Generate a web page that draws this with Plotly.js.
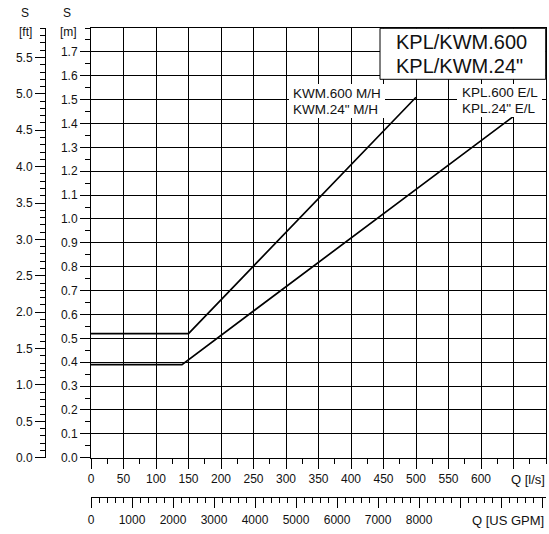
<!DOCTYPE html>
<html>
<head>
<meta charset="utf-8">
<script src="https://cdn.plot.ly/plotly-3.0.1.min.js"></script>
<style>html,body{margin:0;padding:0;background:#fff;}#chart{width:549px;height:534px;}</style>
</head>
<body>
<div id="chart"></div>
<script>
// ---- data ----
const Q_MH = [0, 150, 500];          // KWM.600 M/H  flow [l/s]
const S_MH = [0.52, 0.52, 1.51];     // KWM.600 M/H  S [m]
const Q_EL = [0, 140, 650];          // KPL.600 E/L  flow [l/s]
const S_EL = [0.39, 0.39, 1.43];     // KPL.600 E/L  S [m]

const Q_TICKS = [0,50,100,150,200,250,300,350,400,450,500,550,600,650];
const Q_TICKTEXT = ['0','50','100','150','200','250','300','350','400','450','500','550','600',''];
const GPM_TICKS = [0,1000,2000,3000,4000,5000,6000,7000,8000,9000,10000,11000];
const GPM_TICKTEXT = ['0','1000','2000','3000','4000','5000','6000','7000','8000','','',''];
const M_TICKS = [0,0.1,0.2,0.3,0.4,0.5,0.6,0.7,0.8,0.9,1.0,1.1,1.2,1.3,1.4,1.5,1.6,1.7];
const M_TICKTEXT = ['0.0','0.1','0.2','0.3','0.4','0.5','0.6','0.7','0.8','0.9','1.0','1.1','1.2','1.3','1.4','1.5','1.6','1.7'];
const FT_TICKS = [0,0.5,1.0,1.5,2.0,2.5,3.0,3.5,4.0,4.5,5.0,5.5];
const FT_TICKTEXT = ['0.0','0.5','1.0','1.5','2.0','2.5','3.0','3.5','4.0','4.5','5.0','5.5'];

const Q_MAX = 700;       // l/s
const S_MAX = 1.8;       // m
const LPS_TO_GPM = 15.850323;
const M_TO_FT = 1 / 0.3048;

const LABEL_MH = ['KWM.600 M/H', 'KWM.24" M/H'];
const LABEL_EL = ['KPL.600 E/L', 'KPL.24" E/L'];
const TITLE = ['KPL/KWM.600', 'KPL/KWM.24"'];

// ---- layout helpers ----
const W = 549, H = 534;
const M = {l: 45, r: 3, t: 28, b: 37};
const PW = W - M.l - M.r, PH = H - M.t - M.b;
const px = x => (x - M.l) / PW;
const py = y => (H - M.b - y) / PH;
const FONT = 'Liberation Sans, Arial, Helvetica, sans-serif';
const INK = '#111';

const plotLeft = 91, plotBottom = 457.7;

const traces = [
  {x: Q_MH, y: S_MH, mode: 'lines', line: {color: '#000', width: 1.7}, showlegend: false, hoverinfo: 'skip'},
  {x: Q_EL, y: S_EL, mode: 'lines', line: {color: '#000', width: 1.7}, showlegend: false, hoverinfo: 'skip'},
  {x: [], y: [], xaxis: 'x2', yaxis: 'y2', mode: 'lines', showlegend: false, hoverinfo: 'skip'}
];

const tickFont = {family: FONT, size: 12, color: INK};

const layout = {
  width: W, height: H,
  margin: M,
  paper_bgcolor: '#fff', plot_bgcolor: '#fff',
  showlegend: false,
  xaxis: {
    domain: [px(plotLeft), 1],
    range: [0, Q_MAX], fixedrange: true,
    tickmode: 'array', tickvals: Q_TICKS, ticktext: Q_TICKTEXT,
    ticks: 'outside', ticklen: 10, tickwidth: 1, tickcolor: '#000',
    minor: {tickmode: 'linear', tick0: 0, dtick: 25, ticks: 'outside', ticklen: 5, tickwidth: 1, tickcolor: '#000', showgrid: false},
    showgrid: true, gridcolor: '#000', gridwidth: 1,
    showline: true, linecolor: '#000', linewidth: 1, mirror: true,
    zeroline: false, tickfont: tickFont, automargin: false
  },
  xaxis2: {
    overlaying: 'x', anchor: 'free', position: 0, side: 'bottom',
    range: [0, Q_MAX * LPS_TO_GPM], fixedrange: true,
    tickmode: 'array', tickvals: GPM_TICKS, ticktext: GPM_TICKTEXT,
    ticks: 'outside', ticklen: 10, tickwidth: 1, tickcolor: '#000',
    ticklabelstandoff: 2,
    minor: {tickmode: 'linear', tick0: 0, dtick: 200, ticks: 'outside', ticklen: 5, tickwidth: 1, tickcolor: '#000', showgrid: false},
    showgrid: false, showline: true, linecolor: '#000', linewidth: 1,
    zeroline: false, tickfont: tickFont, automargin: false
  },
  yaxis: {
    domain: [py(plotBottom), 1],
    range: [0, S_MAX], fixedrange: true,
    tickmode: 'array', tickvals: M_TICKS, ticktext: M_TICKTEXT,
    ticks: 'outside', ticklen: 10, tickwidth: 1, tickcolor: '#000',
    minor: {tickmode: 'linear', tick0: 0, dtick: 0.05, ticks: 'outside', ticklen: 5, tickwidth: 1, tickcolor: '#000', showgrid: false},
    showgrid: true, gridcolor: '#000', gridwidth: 1,
    showline: true, linecolor: '#000', linewidth: 1, mirror: true,
    zeroline: false, tickfont: tickFont, automargin: false
  },
  yaxis2: {
    overlaying: 'y', anchor: 'free', position: 0, side: 'left',
    range: [0, S_MAX * M_TO_FT], fixedrange: true,
    tickmode: 'array', tickvals: FT_TICKS, ticktext: FT_TICKTEXT,
    ticks: 'outside', ticklen: 10, tickwidth: 1, tickcolor: '#000',
    minor: {tickmode: 'linear', tick0: 0, dtick: 0.1, ticks: 'outside', ticklen: 5, tickwidth: 1, tickcolor: '#000', showgrid: false},
    showgrid: false, showline: true, linecolor: '#000', linewidth: 1,
    zeroline: false, tickfont: tickFont, automargin: false
  },
  shapes: [
    {type: 'rect', xref: 'paper', yref: 'paper', x0: px(380), x1: px(545.7), y0: py(79.3), y1: py(28.3),
     fillcolor: '#fff', line: {color: '#000', width: 1}, layer: 'above'},
    {type: 'rect', xref: 'paper', yref: 'paper', x0: px(289), x1: px(385), y0: py(118), y1: py(84),
     fillcolor: '#fff', line: {width: 0}, layer: 'above'},
    {type: 'rect', xref: 'paper', yref: 'paper', x0: px(457), x1: px(542), y0: py(117), y1: py(84),
     fillcolor: '#fff', line: {width: 0}, layer: 'above'}
  ],
  annotations: []
};

function note(text, x, y, size, xanchor) {
  layout.annotations.push({
    text: text, xref: 'paper', yref: 'paper', x: px(x), y: py(y),
    xanchor: xanchor || 'center', yanchor: 'middle', showarrow: false,
    borderpad: 0, font: {family: FONT, size: size, color: INK}
  });
}
note('S', 24.5, 13.3, 12);
note('[ft]', 25.8, 31.7, 12);
note('S', 67.2, 13.3, 12);
note('[m]', 68.3, 31.7, 12);
note('Q [l/s]', 527.5, 479, 13);
note('Q [US GPM]', 544.5, 520, 13, 'right');
note(TITLE[0], 394.5, 41.7, 20, 'left');
note(TITLE[1], 394.5, 66, 20, 'left');
note(LABEL_MH[0], 292, 93, 13.5, 'left');
note(LABEL_MH[1], 292, 109.7, 13.5, 'left');
note(LABEL_EL[0], 460.5, 92, 13.5, 'left');
note(LABEL_EL[1], 460.5, 108.3, 13.5, 'left');

Plotly.newPlot('chart', traces, layout, {staticPlot: true, displayModeBar: false});
</script>
</body>
</html>
